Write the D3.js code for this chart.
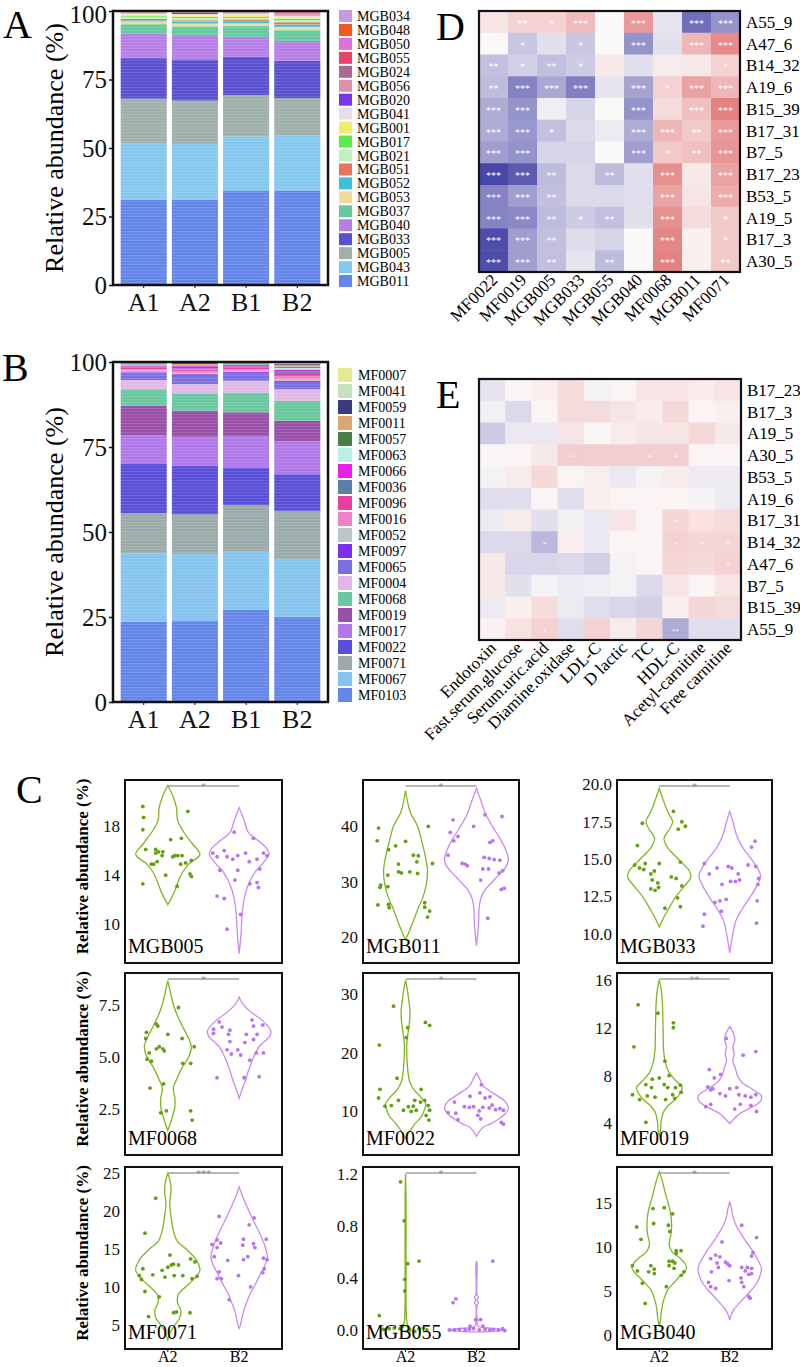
<!DOCTYPE html>
<html><head><meta charset="utf-8">
<script src="https://cdn.jsdelivr.net/npm/d3@7"></script>
<style>body{margin:0;background:#fff}svg{display:block}
svg text{font-family:"Liberation Serif","Times New Roman","DejaVu Serif",serif !important;}</style>
</head><body>
<script>
// ================= DATA =================
// Panel A
const samplesAB = ["A1","A2","B1","B2"];
const taxaA = ["MGB034","MGB048","MGB050","MGB055","MGB024","MGB056","MGB020","MGB041","MGB001","MGB017","MGB021","MGB051","MGB052","MGB053","MGB037","MGB040","MGB033","MGB005","MGB043","MGB011"];
const colorsA = ["#c49ae0","#f05a22","#e070d8","#e8436a","#a8688f","#e090a8","#7a35e8","#e6e0e6","#eeee6a","#5ee84a","#bff0c0","#e8745e","#40c0d8","#eedc98","#66caa0","#b77ee8","#5a50d0","#9fb0aa","#84c8ee","#6486e8"];
const A_A1 = [0.1,0.1,0.1,0.1,0.1,0.2,0.1,0.5,0.6,0.3,0.7,0.5,0.4,1.0,3.3,9.1,14.8,16.2,20.6,31.2];
const A_A2 = [0.1,0.1,0.1,0.1,0.1,0.2,0.4,0.5,0.5,0.5,0.8,0.4,0.8,1.0,3.1,9.2,14.8,15.8,20.3,31.2];
const A_B1 = [0.0,0.1,0.1,0.1,0.1,0.3,0.1,0.6,0.8,0.3,0.6,0.5,0.9,1.0,4.0,7.2,14.0,15.1,19.9,34.3];
const A_B2 = [0.1,0.1,0.2,0.3,0.2,0.5,0.2,0.7,0.5,0.6,0.7,0.8,0.9,1.2,3.9,7.3,13.6,13.7,20.0,34.5];
// Panel B
const taxaB = ["MF0007","MF0041","MF0059","MF0011","MF0057","MF0063","MF0066","MF0036","MF0096","MF0016","MF0052","MF0097","MF0065","MF0004","MF0068","MF0019","MF0017","MF0022","MF0071","MF0067","MF0103"];
const colorsB = ["#e8e890","#c8e0c0","#3a3a80","#d8a870","#4a8048","#b8f0e8","#e820e8","#5a80a8","#e840a0","#f080c8","#b8c8c8","#7a30e8","#7a70e0","#e0b8e8","#6ac8a0","#9a50a8","#b078e8","#5a50d8","#9aaaa8","#84c4ee","#6486e8"];
const B_A1 = [0.1,0.2,0.1,0.1,0.2,0.3,0.4,0.2,0.5,0.4,0.5,0.3,2.0,2.7,4.9,8.6,8.5,14.5,11.8,20.1,23.6];
const B_A2 = [0.1,0.2,0.3,0.2,0.2,0.2,0.7,0.3,0.4,0.6,0.4,0.5,2.4,2.7,5.1,7.7,8.6,14.2,11.7,19.7,23.8];
const B_B1 = [0.1,0.1,0.2,0.1,0.2,0.2,0.5,0.2,0.5,0.5,0.3,0.4,2.2,3.5,5.8,7.0,9.2,11.1,13.7,17.1,27.1];
const B_B2 = [0.2,0.3,0.3,0.6,0.3,0.5,0.5,0.8,0.7,0.8,0.6,0.5,1.9,3.4,5.9,6.1,9.6,10.8,14.2,16.9,25.1];
const ticksAB = [0,25,50,75,100];

// Panel D
const dCols = ["MF0022","MF0019","MGB005","MGB033","MGB055","MGB040","MF0068","MGB011","MF0071"];
const dRows = ["A55_9","A47_6","B14_32","A19_6","B15_39","B17_31","B7_5","B17_23","B53_5","A19_5","B17_3","A30_5"];
const dValues = [
 [0.1,0.2,0.2,0.32,0.0,0.5,-0.1,-0.68,-0.5],
 [0.0,-0.25,-0.12,-0.25,0.0,-0.5,-0.12,0.35,0.58],
 [-0.28,-0.2,-0.28,-0.22,0.08,-0.12,0.07,0.08,0.2],
 [-0.3,-0.58,-0.4,-0.6,-0.1,-0.42,0.2,0.45,0.35],
 [-0.38,-0.5,-0.05,-0.18,0.0,-0.5,0.15,0.3,0.62],
 [-0.38,-0.48,-0.28,-0.15,-0.07,-0.38,0.35,0.25,0.5],
 [-0.45,-0.5,-0.18,-0.18,0.0,-0.45,0.25,0.3,0.52],
 [-0.88,-0.78,-0.3,-0.15,-0.3,-0.12,0.55,0.08,0.45],
 [-0.58,-0.45,-0.28,-0.15,-0.15,-0.13,0.45,0.1,0.4],
 [-0.58,-0.55,-0.3,-0.22,-0.28,-0.12,0.55,0.15,0.25],
 [-0.85,-0.45,-0.28,-0.14,-0.18,0.0,0.6,0.05,0.25],
 [-0.85,-0.45,-0.28,-0.1,-0.3,0.0,0.62,0.05,0.25]
];
const dStars = [
 ["","**","*","***","","***","","***","***"],
 ["","*","","*","","***","","***","***"],
 ["**","*","**","*","","","","","*"],
 ["**","***","***","***","","***","*","***","***"],
 ["***","***","","","","***","","***","***"],
 ["***","***","*","","","***","***","**","***"],
 ["***","***","","","","***","*","**","***"],
 ["***","***","**","","**","","***","","***"],
 ["***","***","**","","","","***","","***"],
 ["***","***","**","*","**","","***","","*"],
 ["***","***","**","","","","***","","*"],
 ["***","***","**","","**","","***","","**"]
];
// Panel E
const eCols = ["Endotoxin","Fast.serum.glucose","Serum.uric.acid","Diamine.oxidase","LDL-C","D lactic","TC","HDL-C","Acetyl-carnitine","Free carnitine"];
const eRows = ["B17_23","B17_3","A19_5","A30_5","B53_5","A19_6","B17_31","B14_32","A47_6","B7_5","B15_39","A55_9"];
const eValues = [
 [-0.1,0.02,0.06,0.15,-0.03,0.02,0.1,0.1,0.07,0.1],
 [-0.04,-0.15,0.02,0.15,0.15,0.1,0.07,0.17,0.02,0.05],
 [-0.22,-0.08,-0.08,0.1,0.01,0.07,0.1,0.1,0.17,0.08],
 [0.02,0.02,0.08,0.22,0.22,0.22,0.22,0.22,0.02,0.02],
 [-0.03,0.07,0.17,0.02,0.06,-0.08,-0.03,0.07,-0.07,-0.07],
 [-0.13,-0.13,0.02,-0.13,0.05,0.02,0.02,0.02,-0.02,-0.07],
 [-0.07,0.07,-0.12,-0.04,-0.08,0.1,0.02,0.18,0.12,0.15],
 [-0.15,-0.15,-0.32,0.06,-0.08,0.02,0.02,0.2,0.18,0.18],
 [0.08,-0.17,-0.17,-0.15,-0.2,-0.03,0.02,0.18,0.16,0.2],
 [0.08,-0.12,-0.03,-0.07,-0.05,-0.03,-0.15,0.1,0.02,0.1],
 [-0.07,0.05,0.15,-0.07,-0.13,-0.17,-0.2,0.05,0.18,0.15],
 [0.03,0.12,0.2,-0.13,0.2,0.07,0.18,-0.38,-0.13,-0.13]
];
const eStars = [
 ["","","","","","","","","",""],
 ["","","","","","","","","",""],
 ["","","","","","","","","",""],
 ["","","","*","","","*","*","",""],
 ["","","","","","","","","",""],
 ["","","","","","","","","",""],
 ["","","","","","","","*","",""],
 ["","","*","","","","","*","*","*"],
 ["","","","","","","","","","*"],
 ["","","","","","","","","",""],
 ["","","","","","","","","",""],
 ["","","*","","","","","**","",""]
];

// Panel C : violin profiles [value, relative half-width] and points [value, x-jitter]
const groupsC = ["A2","B2"];
const MGB005_A2_v = [[21.3,0],[20.5,0.15],[19.5,0.27],[18.5,0.3],[17.7,0.45],[16.6,0.75],[15.7,1.0],[14.9,0.65],[14.2,0.45],[13.5,0.33],[12.5,0.18],[11.6,0]];
const MGB005_B2_v = [[19.5,0],[18.5,0.15],[17.5,0.28],[16.8,0.6],[16.2,0.85],[15.7,0.93],[15.0,0.75],[14.2,0.48],[13.0,0.25],[11.5,0.12],[9.0,0.05],[7.6,0]];
const MGB005_A2_p = [[19.6,-0.35],[18.7,-0.34],[17.7,-0.35],[19.2,0.28],[17.0,0.19],[16.9,0.04],[16.1,-0.31],[16.1,-0.17],[15.9,-0.13],[15.9,-0.07],[15.8,-0.17],[15.6,-0.08],[15.6,0.10],[15.6,0.14],[15.5,0.07],[15.6,0.20],[15.1,-0.15],[14.9,-0.23],[14.9,-0.20],[15.2,0.33],[15.0,0.25],[14.9,0.18],[14.0,-0.03],[14.1,0.31],[13.9,0.33],[13.1,0.13],[13.3,-0.35]];
const MGB005_B2_p = [[17.5,-0.07],[17.0,0.20],[15.8,-0.37],[16.0,-0.21],[15.5,-0.31],[15.5,-0.17],[15.3,-0.09],[15.6,-0.02],[15.8,0.09],[15.8,0.34],[15.1,0.14],[15.3,0.25],[15.6,0.39],[14.5,0.29],[14.4,-0.27],[14.4,-0.02],[13.6,-0.06],[13.3,0.15],[13.4,0.25],[13.0,0.27],[12.3,-0.31],[12.1,-0.21],[10.8,0.02],[9.6,-0.17]];

const MGB011_A2_v = [[46.5,0],[44,0.08],[42.4,0.16],[40,0.38],[37,0.52],[34.6,0.62],[32,0.69],[29.5,0.65],[27.3,0.55],[25,0.38],[23.7,0.3],[21.5,0.15],[19.5,0]];
const MGB011_B2_v = [[46.9,0],[44.5,0.15],[42.4,0.28],[40,0.5],[38,0.72],[36,0.9],[34,1.0],[32.5,0.9],[31.6,0.76],[30,0.5],[28.5,0.26],[27,0.14],[25.6,0.09],[22,0.06],[18.4,0]];
const MGB011_A2_p = [[37.4,-0.40],[35.8,-0.24],[36.5,-0.14],[37.3,0.00],[34.8,0.11],[34.7,0.18],[33.6,0.16],[33.3,0.38],[33.2,-0.10],[31.8,-0.10],[31.8,0.06],[31.5,0.17],[31.6,-0.06],[31.2,-0.25],[29.4,-0.35],[29.0,-0.36],[29.1,-0.25],[25.8,-0.39],[25.9,-0.24],[25.3,-0.23],[26.2,0.27],[25.4,0.27],[24.7,0.34],[23.6,0.31],[39.7,-0.38],[40.0,0.32]];
const MGB011_B2_p = [[41.2,-0.33],[40.0,-0.04],[42.1,0.12],[41.8,0.36],[38.9,-0.37],[38.2,-0.26],[37.4,-0.32],[37.1,0.19],[37.4,0.23],[34.8,-0.40],[33.3,-0.20],[33.2,-0.16],[32.9,-0.13],[34.4,0.11],[34.2,0.18],[34.0,0.25],[33.9,0.33],[32.3,0.09],[32.3,0.17],[32.0,0.37],[31.6,0.32],[30.3,0.06],[28.8,0.39],[28.6,0.35],[23.4,0.16]];

const MGB033_A2_v = [[19.75,0],[19,0.12],[18.2,0.26],[17.5,0.42],[17.0,0.32],[16.4,0.15],[15.8,0.25],[15.0,0.6],[14.2,0.95],[13.8,1.0],[13.2,0.8],[12.4,0.5],[11.5,0.25],[11,0.12],[10.45,0]];
const MGB033_B2_v = [[18.2,0],[17.5,0.1],[16.7,0.2],[15.8,0.4],[14.8,0.75],[13.9,0.97],[13.2,0.85],[12.4,0.63],[11.6,0.38],[10.9,0.2],[10,0.1],[8.7,0]];
const MGB033_A2_p = [[18.2,0.20],[17.5,0.32],[17.2,0.37],[17.4,-0.24],[17.0,0.27],[15.9,-0.31],[14.6,-0.35],[14.4,-0.28],[14.7,-0.20],[14.3,-0.22],[14.0,-0.12],[14.2,-0.07],[14.7,0.00],[13.6,-0.10],[13.4,-0.02],[13.0,-0.12],[12.9,-0.06],[13.1,-0.01],[13.8,0.17],[13.7,0.24],[14.8,0.30],[13.2,0.32],[12.4,0.26],[11.8,0.30],[11.7,0.08]];
const MGB033_B2_p = [[16.2,0.36],[15.8,0.31],[14.7,-0.36],[14.0,-0.29],[14.4,-0.18],[14.5,-0.02],[14.4,0.03],[14.6,0.26],[14.5,0.37],[14.0,0.12],[13.3,-0.11],[13.5,0.01],[13.5,0.08],[13.6,0.14],[13.7,0.41],[13.3,0.40],[12.2,-0.14],[12.1,-0.21],[12.3,-0.05],[11.5,-0.12],[11.3,-0.36],[10.5,-0.38],[12.2,0.39],[10.7,0.38]];

const MF0068_A2_v = [[8.7,0],[8.0,0.1],[7.5,0.18],[7.0,0.3],[6.6,0.42],[6.0,0.62],[5.5,0.73],[5.0,0.65],[4.5,0.45],[3.9,0.27],[3.5,0.17],[3.0,0.22],[2.6,0.22],[2.2,0.16],[1.8,0.08],[1.45,0]];
const MF0068_B2_v = [[7.9,0],[7.6,0.1],[7.2,0.35],[6.8,0.7],[6.3,0.98],[6.0,0.95],[5.5,0.62],[5.0,0.45],[4.4,0.3],[3.8,0.18],[3.4,0.08],[3.0,0]];
const MF0068_A2_p = [[7.4,0.15],[6.6,-0.16],[6.1,0.00],[6.2,-0.30],[5.9,-0.31],[6.5,-0.14],[5.4,-0.07],[5.5,-0.12],[5.4,-0.16],[5.3,-0.05],[5.2,-0.26],[5.5,0.37],[4.9,-0.29],[4.8,-0.23],[4.7,0.21],[4.7,0.32],[5.9,0.20],[3.7,-0.06],[3.5,-0.25],[2.3,-0.10],[2.4,-0.02],[2.4,0.32],[1.95,0.34]];
const MF0068_B2_p = [[6.7,-0.28],[6.35,-0.36],[6.15,-0.36],[6.45,-0.24],[6.3,-0.13],[6.1,-0.15],[6.8,0.18],[6.5,0.20],[6.55,0.33],[6.1,0.10],[6.1,0.25],[5.85,0.20],[5.7,0.08],[5.75,-0.13],[5.35,-0.02],[5.35,-0.17],[5.15,-0.11],[5.1,0.02],[5.2,0.24],[5.2,0.34],[4.85,0.15],[4.0,-0.31],[4.0,0.07],[4.05,0.28]];

const MF0022_A2_v = [[32.45,0],[31,0.05],[29.5,0.09],[27,0.14],[25,0.12],[23.5,0.08],[21.5,0.04],[19.5,0.04],[17,0.07],[15,0.13],[13.5,0.28],[12.4,0.47],[11.2,0.63],[10,0.58],[9,0.5],[8,0.33],[7.2,0.22],[6.2,0.1],[5.3,0]];
const MF0022_B2_v = [[16.5,0],[15.5,0.1],[14.3,0.21],[13.3,0.45],[12.4,0.7],[11.7,0.88],[10.5,1.0],[9.5,0.9],[8.6,0.7],[7.8,0.45],[7.2,0.22],[6.5,0.1],[5.6,0]];
const MF0022_A2_p = [[28.0,-0.17],[24.3,0.03],[22.6,0.01],[25.2,0.28],[24.7,0.34],[21.3,-0.37],[15.6,-0.12],[13.7,-0.36],[13.7,0.22],[12.2,-0.38],[10.8,-0.29],[10.9,-0.20],[11.8,-0.10],[10.1,-0.03],[10.7,0.04],[10.8,0.11],[11.8,0.13],[9.9,0.08],[10.1,0.15],[11.5,0.21],[11.8,0.27],[10.9,0.32],[10.1,0.34],[9.2,0.29],[8.4,0.33]];
const MF0022_B2_p = [[14.5,0.07],[11.5,-0.31],[12.4,0.19],[13.1,0.05],[12.5,-0.09],[12.2,0.12],[10.7,-0.17],[10.6,-0.10],[10.7,-0.04],[10.0,0.04],[10.6,0.09],[10.5,0.18],[11.0,0.22],[10.2,0.27],[10.4,0.33],[10.1,0.38],[9.6,-0.29],[9.2,0.02],[8.6,0.06],[8.0,0.35],[7.7,0.38],[9.7,-0.40],[8.5,-0.26]];

const MF0019_A2_v = [[16,0],[15,0.07],[14,0.1],[12,0.12],[10,0.14],[9,0.2],[8.2,0.32],[7.5,0.55],[7.0,0.72],[6.5,0.65],[6.0,0.5],[5.5,0.28],[5.0,0.14],[4.2,0.06],[3.5,0.04],[2.9,0]];
const MF0019_B2_v = [[12.1,0],[11.5,0.12],[11,0.16],[10.4,0.1],[9.8,0.14],[9.2,0.1],[8.6,0.18],[8.0,0.24],[7.4,0.4],[6.8,0.75],[6.3,1.0],[5.8,0.95],[5.3,0.65],[4.8,0.3],[4.4,0.14],[4.0,0]];
const MF0019_A2_p = [[13.9,-0.30],[13.2,-0.02],[10.4,-0.36],[12.4,0.20],[12.0,0.20],[9.2,0.08],[8.0,0.14],[7.25,-0.19],[7.7,-0.10],[7.8,0.00],[7.25,0.07],[7.0,0.12],[7.0,0.23],[7.2,0.30],[7.0,-0.11],[6.4,-0.38],[6.0,-0.28],[6.3,-0.17],[6.2,-0.06],[6.4,0.19],[6.6,0.31],[6.1,0.22],[6.0,0.09],[4.1,-0.19]];
const MF0019_B2_p = [[11.1,-0.05],[8.5,-0.29],[7.8,-0.22],[8.1,-0.13],[9.7,0.19],[10.0,0.37],[7.05,-0.31],[6.9,-0.24],[6.9,0.00],[7.0,0.10],[6.8,-0.27],[6.5,-0.14],[6.3,-0.06],[6.4,0.13],[6.3,0.22],[6.2,0.30],[6.4,0.37],[5.6,-0.27],[5.4,-0.34],[5.6,0.15],[5.5,0.30],[5.0,0.38],[5.2,0.07]];

const MF0071_A2_v = [[25,0],[24,0.07],[22.8,0.1],[21,0.06],[19.3,0.1],[17.5,0.17],[16,0.3],[15,0.57],[13.6,0.88],[12.2,1.0],[11,0.8],[10,0.55],[9,0.33],[8,0.3],[7,0.4],[6,0.38],[5,0.22],[4.2,0.1],[3.0,0]];
const MF0071_B2_v = [[23.2,0],[22,0.1],[21,0.2],[19.5,0.36],[18,0.53],[16.5,0.7],[15,0.83],[14,0.88],[13,0.82],[12,0.7],[11,0.58],[10,0.46],[9,0.33],[8,0.24],[7,0.15],[6,0.09],[5,0.04],[4.55,0]];
const MF0071_A2_p = [[21.7,-0.17],[17.1,-0.32],[14.2,0.03],[13.7,0.32],[13.3,0.38],[12.4,-0.35],[11.5,-0.40],[11.0,-0.37],[11.6,-0.21],[12.2,-0.08],[12.6,0.00],[12.9,0.05],[13.0,0.08],[12.9,0.15],[11.3,-0.04],[11.5,0.09],[11.5,0.21],[11.1,0.34],[11.4,0.41],[9.4,-0.32],[8.7,-0.12],[6.6,0.08],[6.7,0.12],[6.6,0.31],[6.1,-0.27]];
const MF0071_B2_p = [[19.3,-0.28],[19.1,0.21],[18.2,0.14],[15.6,-0.38],[16.2,-0.31],[15.8,-0.26],[15.2,-0.31],[14.0,-0.35],[13.5,-0.16],[16.3,0.06],[15.5,0.05],[15.7,0.20],[15.2,0.22],[16.3,0.38],[14.0,0.12],[13.6,0.06],[13.8,0.34],[13.6,0.39],[12.0,-0.28],[11.1,-0.31],[11.1,-0.25],[11.5,-0.01],[12.4,0.35],[11.9,0.33],[10.0,0.16],[8.3,-0.14]];

const MGB055_A2_v = [[1.2,0],[1.0,0.015],[0.5,0.015],[0.15,0.02],[0.05,0.05],[0.01,0.14],[0,0.15],[-0.01,0]];
const MGB055_B2_v = [[0.53,0],[0.5,0.02],[0.27,0.02],[0.25,0.06],[0.23,0.02],[0.21,0.06],[0.19,0.02],[0.09,0.02],[0.075,0.06],[0.06,0.02],[0.03,0.05],[0.012,0.5],[0,0.9],[-0.01,0.5],[-0.015,0]];
const MGB055_A2_p = [[1.14,-0.07],[0.84,-0.02],[0.51,0.03],[0.53,0.19],[0.39,-0.01],[0.30,-0.01],[0.11,-0.37],[0.005,-0.31],[0.01,-0.23],[0.015,-0.16],[0.01,-0.08],[0.03,-0.04],[0.0,0.06],[-0.01,0.13],[0.01,0.19],[0.015,0.25],[0.0,0.30]];
const MGB055_B2_p = [[0.53,0.23],[0.21,-0.33],[0.24,-0.29],[0.08,-0.01],[0.08,0.06],[0.0,-0.38],[0.0,-0.31],[0.005,-0.24],[0.0,-0.16],[0.005,-0.10],[0.01,-0.04],[0.0,0.04],[0.005,0.12],[0.0,0.19],[0.005,0.24],[0.0,0.31],[0.01,0.37],[-0.005,0.40],[0.03,-0.09],[0.03,0.09]];

const MGB040_A2_v = [[18.6,0],[17.5,0.1],[16.6,0.16],[15,0.28],[14,0.35],[12.5,0.39],[11.5,0.37],[10.3,0.31],[9.5,0.4],[8.9,0.6],[8.2,0.8],[7.6,0.86],[7.0,0.75],[6.5,0.6],[5.8,0.42],[5.1,0.26],[4,0.14],[3,0.08],[2,0.05],[0.95,0]];
const MGB040_B2_v = [[15.2,0],[14.3,0.06],[13.5,0.1],[12.5,0.2],[11.6,0.34],[10.6,0.52],[9.7,0.7],[8.6,0.88],[7.6,1.0],[6.7,0.95],[5.9,0.85],[5.1,0.68],[4.4,0.5],[3.6,0.3],[2.9,0.13],[2.3,0.05],[1.7,0]];
const MGB040_A2_p = [[12.3,-0.32],[10.9,-0.26],[14.4,-0.09],[14.5,0.07],[13.8,0.19],[12.7,-0.08],[12.5,0.13],[11.8,0.15],[7.9,-0.38],[7.3,-0.31],[7.9,-0.12],[7.5,-0.07],[7.2,-0.15],[7.0,-0.07],[5.9,-0.24],[8.4,0.14],[8.4,0.19],[8.2,0.22],[7.9,0.14],[7.6,0.21],[9.6,0.24],[9.6,0.31],[9.3,0.24],[6.8,0.31],[7.2,0.35],[5.5,0.10],[3.6,-0.20]];
const MGB040_B2_p = [[12.5,0.17],[11.1,0.38],[10.6,-0.11],[9.4,0.33],[9.0,0.31],[9.1,-0.20],[8.9,-0.14],[8.7,-0.27],[8.3,-0.06],[8.1,-0.03],[7.9,0.00],[8.2,-0.18],[7.7,-0.16],[7.2,-0.26],[7.7,0.17],[7.7,0.25],[7.6,0.31],[7.3,0.22],[6.9,0.27],[7.0,0.31],[6.0,-0.30],[5.5,-0.27],[5.3,-0.20],[6.2,-0.01],[6.5,0.16],[6.0,0.17],[5.5,0.20],[4.4,0.27],[4.2,0.29]];

const violinNames = ["MGB005","MGB011","MGB033","MF0068","MF0022","MF0019","MF0071","MGB055","MGB040"];
const violinDomains = [[6.85,21.75],[15.3,48.4],[8.03,20.3],[0.26,9.07],[2.4,33.7],[1.37,16.56],[1.82,25.82],[-0.146,1.254],[-1.59,19.13]];
const violinTicks = [[10,14,18],[20,30,40],[10,12.5,15,17.5,20],[2.5,5,7.5],[10,20,30],[4,8,12,16],[5,10,15,20,25],[0,0.4,0.8,1.2],[0,5,10,15]];
const violinSig = ["*","*","*","*","*","**","***","*","*"];
const violinShapes = [
 [MGB005_A2_v,MGB005_B2_v],[MGB011_A2_v,MGB011_B2_v],[MGB033_A2_v,MGB033_B2_v],
 [MF0068_A2_v,MF0068_B2_v],[MF0022_A2_v,MF0022_B2_v],[MF0019_A2_v,MF0019_B2_v],
 [MF0071_A2_v,MF0071_B2_v],[MGB055_A2_v,MGB055_B2_v],[MGB040_A2_v,MGB040_B2_v]];
const violinPoints = [
 [MGB005_A2_p,MGB005_B2_p],[MGB011_A2_p,MGB011_B2_p],[MGB033_A2_p,MGB033_B2_p],
 [MF0068_A2_p,MF0068_B2_p],[MF0022_A2_p,MF0022_B2_p],[MF0019_A2_p,MF0019_B2_p],
 [MF0071_A2_p,MF0071_B2_p],[MGB055_A2_p,MGB055_B2_p],[MGB040_A2_p,MGB040_B2_p]];

// ================= DRAWING =================
const FONT = "Liberation Serif";
const svg = d3.select("body").append("svg").attr("width",800).attr("height",1367)
  .attr("font-family",FONT);

const defs = svg.append("defs");
const pat = defs.append("pattern").attr("id","stripes").attr("patternUnits","userSpaceOnUse")
  .attr("width",8).attr("height",3);
pat.append("rect").attr("x",0).attr("y",0).attr("width",8).attr("height",0.7).attr("fill","#fff").attr("opacity",0.18);

function letter(t,x,y){ svg.append("text").attr("x",x).attr("y",y).attr("font-size",40).text(t); }

// ---------- stacked bars ----------
function stacked(taxa, colors, vals, box, legend){
  const rows = samplesAB.map((s,i)=>{ const o={sample:s}; taxa.forEach((t,j)=>o[t]=vals[i][j]); return o; });
  const keys = taxa.slice().reverse();
  const series = d3.stack().keys(keys)(rows);
  const x = d3.scaleBand().domain(samplesAB).range([box.x0,box.x1]).paddingInner(0.1).paddingOuter(0.15);
  const y = d3.scaleLinear().domain([0,100]).range([box.y1,box.y0]);
  const col = d3.scaleOrdinal().domain(taxa).range(colors);
  const g = svg.append("g");
  g.selectAll("g.s").data(series).join("g").attr("fill",d=>col(d.key))
    .selectAll("rect").data(d=>d).join("rect")
    .attr("x",d=>x(d.data.sample)).attr("width",x.bandwidth())
    .attr("y",d=>y(d[1])).attr("height",d=>Math.max(0,y(d[0])-y(d[1])));
  g.selectAll("rect.tex").data(samplesAB).join("rect").attr("class","tex")
    .attr("x",d=>x(d)).attr("width",x.bandwidth()).attr("y",y(100)).attr("height",y(0)-y(100))
    .attr("fill","url(#stripes)");
  g.append("rect").attr("x",box.x0).attr("y",box.y0).attr("width",box.x1-box.x0).attr("height",box.y1-box.y0)
    .attr("fill","none").attr("stroke","#111").attr("stroke-width",2.5);
  const ya = g.append("g").attr("transform",`translate(${box.x0},0)`)
    .call(d3.axisLeft(y).tickValues(ticksAB).tickSize(4).tickPadding(2));
  ya.select(".domain").remove();
  ya.selectAll("line").attr("stroke","#111").attr("stroke-width",1.5);
  ya.selectAll("text").attr("font-size",25).attr("fill","#111")
    .attr("dy",d=>(y(d)<20 ? "0.45em" : "0.32em"));
  const xa = g.append("g").attr("transform",`translate(0,${box.y1})`)
    .call(d3.axisBottom(x).tickSize(3).tickPadding(5));
  xa.select(".domain").remove();
  xa.selectAll("line").attr("stroke","#111");
  xa.selectAll("text").attr("font-size",26).attr("fill","#111");
  g.append("text").attr("transform",`translate(${box.lx},${(box.y0+box.y1)/2}) rotate(-90)`)
    .attr("text-anchor","middle").attr("font-size",26).text("Relative abundance (%)");
  const lg = g.append("g");
  taxa.forEach((t,i)=>{
    const cy = legend.y + i*legend.dy;
    lg.append("rect").attr("x",legend.x).attr("y",cy-legend.h/2).attr("width",legend.w).attr("height",legend.h).attr("fill",col(t));
    lg.append("text").attr("x",legend.tx).attr("y",cy+5).attr("font-size",legend.fs).text(t);
  });
}
stacked(taxaA, colorsA, [A_A1,A_A2,A_B1,A_B2], {x0:113,x1:328,y0:11,y1:285,lx:63},
  {x:339,y:16,dy:13.95,w:13,h:12,tx:357,fs:14});
stacked(taxaB, colorsB, [B_A1,B_A2,B_B1,B_B2], {x0:113,x1:328,y0:362,y1:702,lx:63},
  {x:338,y:375,dy:16,w:14,h:14,tx:358,fs:14});
letter("A",3,38); letter("B",2,381);

// ---------- heatmaps ----------
const heatColor = d3.scaleLinear().domain([-1,0,1]).range(["#2f2f9c","#fbf8f8","#d63a3a"]);
function heat(cols, rows, vals, stars, box, starSize){
  const x = d3.scaleBand().domain(cols).range([box.x0,box.x1]);
  const y = d3.scaleBand().domain(rows).range([box.y0,box.y1]);
  const g = svg.append("g");
  rows.forEach((r,i)=>cols.forEach((c,j)=>{
    g.append("rect").attr("x",x(c)).attr("y",y(r)).attr("width",x.bandwidth()+0.5).attr("height",y.bandwidth()+0.5)
      .attr("fill",heatColor(vals[i][j]));
    if(stars[i][j]) g.append("text").attr("x",x(c)+x.bandwidth()/2).attr("y",y(r)+y.bandwidth()/2+starSize*0.5)
      .attr("text-anchor","middle").attr("font-size",starSize).attr("fill","#fff").text(stars[i][j]);
  }));
  g.append("rect").attr("x",box.x0).attr("y",box.y0).attr("width",box.x1-box.x0).attr("height",box.y1-box.y0)
    .attr("fill","none").attr("stroke","#111").attr("stroke-width",2.2);
  rows.forEach(r=>g.append("text").attr("x",box.x1+6).attr("y",y(r)+y.bandwidth()/2+6).attr("font-size",17).text(r));
  cols.forEach(c=>g.append("text")
    .attr("transform",`translate(${x(c)+x.bandwidth()/2+5},${box.y1+9}) rotate(-45)`)
    .attr("text-anchor","end").attr("font-size",17).text(c));
}
heat(dCols,dRows,dValues,dStars,{x0:479,x1:740,y0:11,y1:272},10);
heat(eCols,eRows,eValues,eStars,{x0:479,x1:741,y0:379,y1:640},7);
letter("D",436,40); letter("E",436,408);

// ---------- violins ----------
letter("C",16,803);
const colX = [[125,282],[363,519],[617,772]];
const rowY = [[780,963],[973,1155],[1167,1349]];
const vStroke = ["#80b622","#c98af6"], vPt = ["#63a010","#b873f0"];
violinNames.forEach((name,k)=>{
  const c = k%3, r = Math.floor(k/3);
  const [x0,x1] = colX[c], [y0,y1] = rowY[r];
  const x = d3.scaleLinear().domain([0.4,2.6]).range([x0,x1]);
  const y = d3.scaleLinear().domain(violinDomains[k]).range([y1,y0]);
  const g = svg.append("g");
  const gc = g.append("g");
  [0,1].forEach(gi=>{
    const cx = gi+1;
    const area = d3.area().curve(d3.curveCatmullRom.alpha(0.5))
      .y(d=>y(d[0])).x0(d=>x(cx-d[1]*0.45)).x1(d=>x(cx+d[1]*0.45));
    gc.append("path").attr("d",area(violinShapes[k][gi])).attr("fill","none")
      .attr("stroke",vStroke[gi]).attr("stroke-width",1.3);
    gc.selectAll(null).data(violinPoints[k][gi]).join("circle")
      .attr("cx",d=>x(cx+d[1])).attr("cy",d=>y(d[0])).attr("r",1.9).attr("fill",vPt[gi]);
  });
  const sy = y0+6;
  g.append("line").attr("x1",x(1)).attr("x2",x(2)).attr("y1",sy).attr("y2",sy).attr("stroke","#a0a0a0").attr("stroke-width",1.3);
  g.append("text").attr("x",(x(1)+x(2))/2).attr("y",sy+3.5).attr("text-anchor","middle").attr("font-size",10).attr("fill","#888").text(violinSig[k]);
  g.append("rect").attr("x",x0).attr("y",y0).attr("width",x1-x0).attr("height",y1-y0)
    .attr("fill","none").attr("stroke","#111").attr("stroke-width",2);
  const fmt = violinTicks[k].some(v=>v%1!==0) ? d3.format(".1f") : d3.format("d");
  const ya = g.append("g").attr("transform",`translate(${x0},0)`)
    .call(d3.axisLeft(y).tickValues(violinTicks[k]).tickFormat(fmt).tickSize(0).tickPadding(5));
  ya.select(".domain").remove();
  ya.selectAll("text").attr("font-size",17).attr("fill","#111");
  g.append("text").attr("x",x0+3).attr("y",y1-10).attr("font-size",20).text(name);
  if(c===0) g.append("text").attr("transform",`translate(88,${(y0+y1)/2-5}) rotate(-90)`)
    .attr("text-anchor","middle").attr("font-size",17).attr("font-weight","bold").text("Relative abundance (%)");
  if(r===2){
    groupsC.forEach((gname,gi)=>{
      g.append("line").attr("x1",x(gi+1)).attr("x2",x(gi+1)).attr("y1",y1).attr("y2",y1+3).attr("stroke","#111");
      g.append("text").attr("x",x(gi+1)).attr("y",1362).attr("text-anchor","middle").attr("font-size",16).text(gname);
    });
  }
});
</script>
</body></html>
